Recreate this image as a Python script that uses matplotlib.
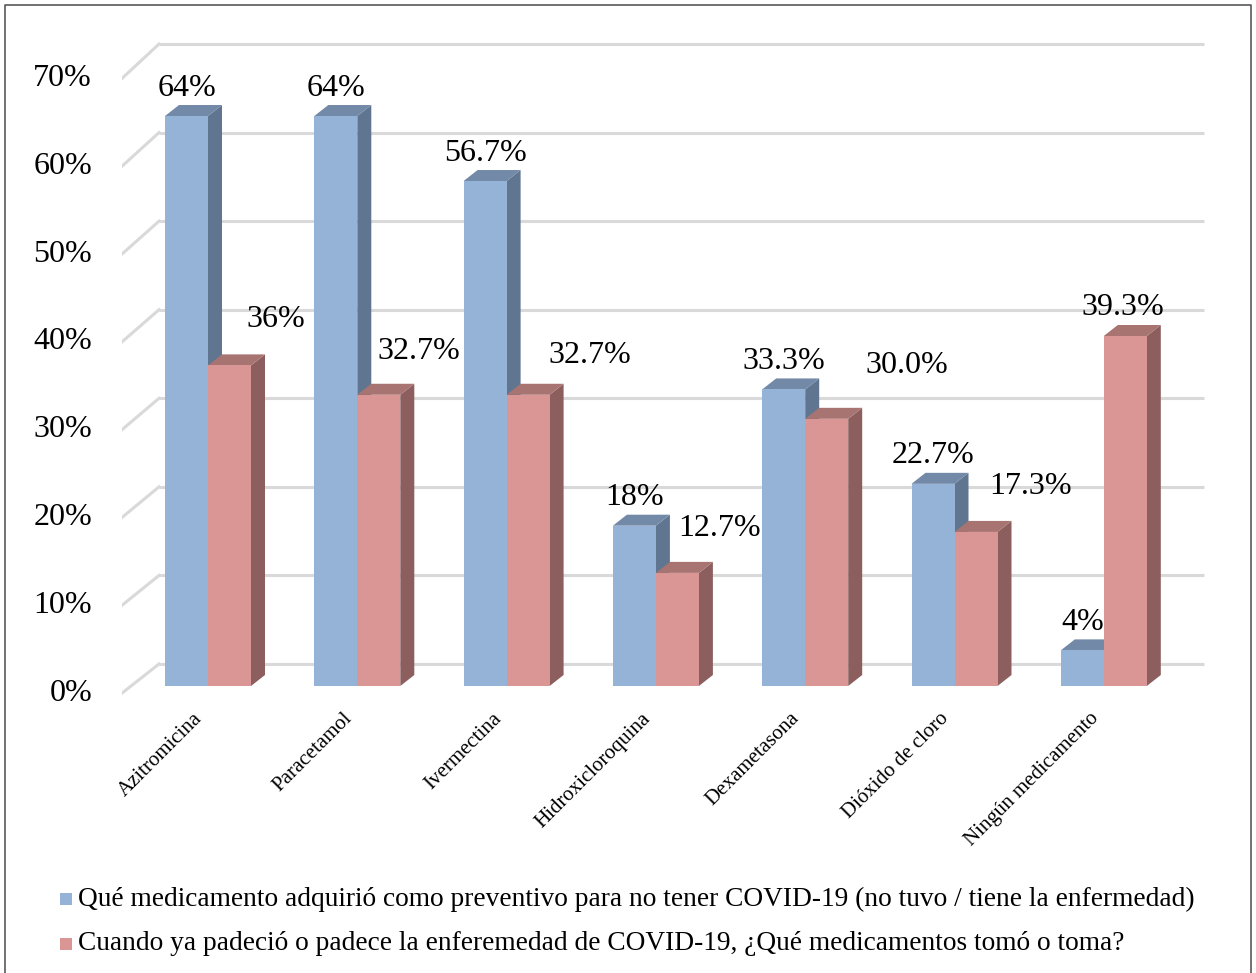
import matplotlib
matplotlib.use("Agg")
import matplotlib.pyplot as plt
from matplotlib.patches import Polygon, Rectangle
from matplotlib.lines import Line2D

categories = ["Azitromicina", "Paracetamol", "Ivermectina", "Hidroxicloroquina",
              "Dexametasona", "Dióxido de cloro", "Ningún medicamento"]
preventivo = [64, 64, 56.7, 18, 33.3, 22.7, 4]
padecio = [36, 32.7, 32.7, 12.7, 30.0, 17.3, 39.3]
labels_prev = ["64%", "64%", "56.7%", "18%", "33.3%", "22.7%", "4%"]
labels_pad = ["36%", "32.7%", "32.7%", "12.7%", "30.0%", "17.3%", "39.3%"]
yticks = [0, 10, 20, 30, 40, 50, 60, 70]
series_names = [
    "Qué medicamento adquirió como preventivo para no tener COVID-19 (no tuvo / tiene la enfermedad)",
    "Cuando ya padeció o padece la enferemedad de COVID-19, ¿Qué medicamentos tomó o toma?",
]

# styling
FONT = "Liberation Serif"
W, H = 1256, 973
DPI = 100
fig = plt.figure(figsize=(W / DPI, H / DPI), dpi=DPI)

left_px, right_px, top_px, bot_px = 122, 1206, 30, 700
ax = fig.add_axes([left_px / W, 1 - bot_px / H, (right_px - left_px) / W, (bot_px - top_px) / H])
px_per_x = 149.3
px_per_y = 8.906
x0_px = 208
y0_px = 686
ax.set_xlim((left_px - x0_px) / px_per_x, (right_px - x0_px) / px_per_x)
ax.set_ylim((y0_px - bot_px) / px_per_y, (y0_px - top_px) / px_per_y)
ax.axis("off")

blue_front, blue_side, blue_top = "#95B3D7", "#5F7590", "#7389A8"
red_front, red_side, red_top = "#D99694", "#8C5F5E", "#A87472"
grid_c = "#D9D9D9"

bw = 43 / px_per_x
ddx = 14 / px_per_x
ddy = 11 / px_per_y

back_x0 = (159 - x0_px) / px_per_x
front_x0 = (left_px - x0_px) / px_per_x
x_right = (1204 - x0_px) / px_per_x


def back_y(v):
    return 2.47 + v * 0.9945


def front_y(v):
    return -0.8 + v * 0.986


for v in yticks:
    ax.plot([back_x0, x_right], [back_y(v), back_y(v)], color=grid_c, lw=2.2, zorder=1,
            solid_capstyle="butt")
    ax.plot([front_x0, back_x0], [front_y(v), back_y(v)], color=grid_c, lw=2.2, zorder=1)
    ax.text(front_x0 - 30 / px_per_x, front_y(v), f"{v}%", ha="right", va="center",
            fontsize=23, family=FONT, color="black")

n = len(categories)
xs = list(range(n))

for i in xs:
    h = padecio[i]
    xl = i
    ax.bar(xl, h, width=bw, align="edge", color=red_front, edgecolor="none", zorder=3)
    ax.add_patch(Polygon([(xl + bw, 0), (xl + bw + ddx, ddy), (xl + bw + ddx, h + ddy), (xl + bw, h)],
                         closed=True, facecolor=red_side, edgecolor="none", zorder=2.5))
    ax.add_patch(Polygon([(xl, h), (xl + ddx, h + ddy), (xl + bw + ddx, h + ddy), (xl + bw, h)],
                         closed=True, facecolor=red_top, edgecolor="none", zorder=2.5))
for i in xs:
    hb = preventivo[i]
    ax.bar(i - bw, hb, width=bw, align="edge", color=blue_front, edgecolor="none", zorder=2)
    ax.add_patch(Polygon([(i, 0), (i + ddx, ddy), (i + ddx, hb + ddy), (i, hb)],
                         closed=True, facecolor=blue_side, edgecolor="none", zorder=1.8))
    ax.add_patch(Polygon([(i - bw, hb), (i - bw + ddx, hb + ddy), (i + ddx, hb + ddy), (i, hb)],
                         closed=True, facecolor=blue_top, edgecolor="none", zorder=1.8))

blue_off = [(0, 28)] * n
red_off = [(46, 46), (40, 43), (62, 39), (42, 44), (80, 53), (55, 45), (-2, 28)]
for i in xs:
    ax.annotate(labels_prev[i], (i - bw / 2, preventivo[i]), xytext=blue_off[i],
                textcoords="offset pixels", ha="center", va="center", fontsize=23,
                family=FONT, zorder=5)
    ax.annotate(labels_pad[i], (i + bw / 2, padecio[i]), xytext=red_off[i],
                textcoords="offset pixels", ha="center", va="center", fontsize=23,
                family=FONT, zorder=5)

for i in xs:
    ax.text(i - 0.1, -2.6, categories[i], rotation=45, ha="right", va="top",
            rotation_mode="anchor", fontsize=15, family=FONT)

for k, (name, col) in enumerate(zip(series_names, [blue_front, red_front])):
    ypx = 899 + k * 45
    fig.patches.append(Rectangle((60 / W, 1 - (ypx + 6) / H), 12 / W, 12 / H,
                                 transform=fig.transFigure, facecolor=col, edgecolor="none"))
    fig.text(78 / W, 1 - ypx / H, name, ha="left", va="center", fontsize=19.7, family=FONT)

# outer border (left, top, right)
bx = [5 / W, 5 / W, 1251 / W, 1251 / W]
by = [0, 1 - 5 / H, 1 - 5 / H, 0]
fig.lines.append(Line2D(bx, by, transform=fig.transFigure, color="#595959", lw=1.2))

fig.savefig("out.png", dpi=DPI)
